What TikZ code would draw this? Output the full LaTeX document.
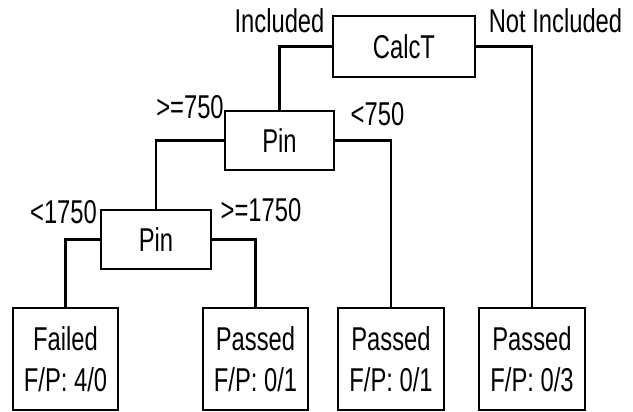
\documentclass[tikz,border=0pt]{standalone}
\usepackage{fontspec}
\setmainfont{Liberation Sans}[FakeStretch=0.72]
\usetikzlibrary{positioning}

\begin{document}
\begin{tikzpicture}[
            x=1pt, y=-1pt,
            line width=2.4pt,
            every node/.style={font=\fontsize{33}{41}\selectfont},
            test/.style={draw, shape=rectangle, inner sep=0pt, fill=white},
            leaf/.style={draw, shape=rectangle, inner sep=0pt, fill=white,
                align=center, minimum width=105pt, minimum height=102pt},
            branch/.style={anchor=base, inner sep=0pt}
        ]

        \useasboundingbox (0,0) rectangle (633,412);

        % decision nodes
        \node[test, minimum width=142pt, minimum height=61pt] (calc) at (404,46.5) {CalcT};
        \node[test, minimum width=109pt, minimum height=59pt] (pin1) at (279.5,140.5) {Pin};
        \node[test, minimum width=110pt, minimum height=59pt] (pin2) at (156,239.5) {Pin};

        % leaves
        \node[leaf] (failed) at (65.5,359) {Failed\\F/P: 4/0};
        \node[leaf] (passA) at (255.5,359) {Passed\\F/P: 0/1};
        \node[leaf, minimum width=106pt] (passB) at (391,359) {Passed\\F/P: 0/1};
        \node[leaf, minimum width=106pt] (passC) at (532,359) {Passed\\F/P: 0/3};

        \draw (calc.west) -| (pin1.north);
        \draw (calc.east) -| (passC.north);
        \draw (pin1.west) -| (pin2.north);
        \draw (pin1.east) -| (passB.north);
        \draw (pin2.west) -| (failed.north);
        \draw (pin2.east) -| (passA.north);

        % branch labels
        \node[branch] (incl) at (279.5,33) {Included};
        \node[branch] (notincl) at (555.5,33) {Not Included};
        \node[branch] (ge750) at (190,119) {>=750};
        \node[branch] (lt750) at (377.5,125) {<750};
        \node[branch] (lt1750) at (63.5,223) {<1750};
        \node[branch] (ge1750) at (261,222) {>=1750};

    \end{tikzpicture}
\end{document}
